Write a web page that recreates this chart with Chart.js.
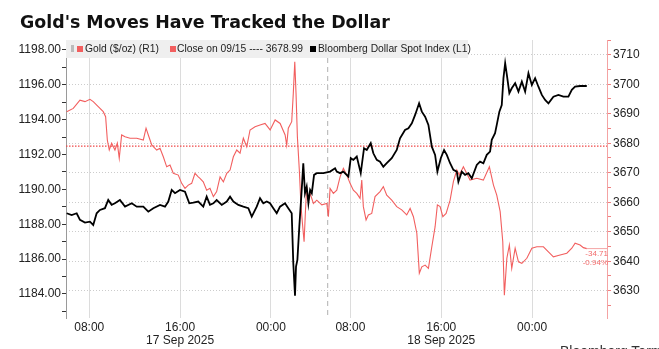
<!DOCTYPE html>
<html>
<head>
<meta charset="utf-8">
<script src="https://cdn.jsdelivr.net/npm/chart.js@4"></script>
<style>
  html, body { margin: 0; padding: 0; background: #fff; overflow: hidden; }
  #wrap { position: relative; width: 659px; height: 349px; overflow: hidden; }
  #title { position: absolute; left: 20px; top: 12px; font: bold 17.4px "DejaVu Sans", Verdana, sans-serif; color: #111; white-space: nowrap; }
  #legend { position: absolute; left: 66px; top: 40px; width: 402px; height: 18px; background: #efefef; font: 10.3px "Liberation Sans", Arial, sans-serif; color: #222; }
  #legend span { position: absolute; white-space: nowrap; }
  #legend .sq { width: 6px; height: 6px; top: 6px; }
  #legend .txt { top: 3px; }
  #source { position: absolute; left: 560px; top: 343px; font: 14px "Liberation Sans", Arial, sans-serif; color: #333; white-space: nowrap; }
</style>
</head>
<body>
<div id="wrap">
  <canvas id="goldChart" width="659" height="349"></canvas>
  <div id="title">Gold's Moves Have Tracked the Dollar</div>
  <div id="legend">
    <span style="left:5px;top:5px;width:3px;height:7px;background:#bbb;"></span>
    <span class="sq" style="left:11px;background:#f25f5f;"></span>
    <span class="txt" style="left:19px;">Gold ($/oz) (R1)</span>
    <span class="sq" style="left:104px;background:#f25f5f;"></span>
    <span class="txt" style="left:111px;">Close on 09/15 ---- 3678.99</span>
    <span class="sq" style="left:244px;background:#000;"></span>
    <span class="txt" style="left:252px;">Bloomberg Dollar Spot Index (L1)</span>
  </div>
  <div id="source">Bloomberg Terminal</div>
</div>
<script>
// x in chart hours (17 Sep 00:00 = 0, daily break removed)
const xTickValues = [8, 16, 24, 31, 39, 47];
const xTickLabels = ['08:00', ['16:00', '17 Sep 2025'], '00:00', '08:00', ['16:00', '18 Sep 2025'], '00:00'];
const leftTickValues = [1184, 1186, 1188, 1190, 1192, 1194, 1196, 1198];
const rightTickValues = [3630, 3640, 3650, 3660, 3670, 3680, 3690, 3700, 3710];
const sessionStart = 29;
const closeValue = 3678.99;

// Gold ($/oz), right axis
const goldHours = [6.01,6.59,7.18,7.62,8.06,8.35,8.79,9.23,9.44,9.59,
  9.76,9.97,10.26,10.47,10.64,10.85,11.15,11.59,12.18,12.76,
  13.0,13.2,13.5,13.94,14.23,14.52,14.82,15.11,15.4,15.84,
  16.14,16.43,16.72,17.02,17.31,17.6,17.75,18.04,18.34,18.63,
  18.93,19.22,19.52,19.81,20.11,20.4,20.69,20.99,21.28,21.57,
  21.87,22.16,22.6,23.04,23.48,23.93,24.37,24.81,25.25,25.39,
  25.53,25.83,25.97,26.1,26.21,26.33,26.5,26.65,26.8,26.92,
  27.03,27.15,27.3,27.45,27.74,28.04,28.48,28.92,29.06,29.21,
  29.5,29.8,30.09,30.38,30.68,30.97,31.26,31.56,31.85,32.0,
  32.14,32.38,32.58,32.88,33.17,33.61,33.9,34.2,34.64,35.08,
  35.52,35.96,36.26,36.55,36.85,37.07,37.29,37.58,37.87,38.17,
  38.46,38.66,38.9,39.14,39.43,39.78,40.07,40.37,40.6,40.95,
  41.54,42.13,42.71,43.24,43.6,43.89,44.19,44.42,44.56,44.78,
  45.0,45.21,45.51,45.8,46.1,46.54,46.98,47.42,48.0,48.44,
  48.88,49.47,50.06,50.5,50.79,51.23,51.52,51.82];
const goldPrices = [3690.7,3691.8,3694.6,3694.1,3694.9,3694.1,3692.4,3690.7,3689.0,3681.1,
  3677.7,3680.0,3677.7,3680.0,3674.9,3682.8,3682.2,3681.7,3681.7,3681.1,
  3685.1,3682.8,3679.4,3677.7,3678.3,3675.4,3672.0,3672.6,3669.8,3669.2,
  3666.4,3664.7,3665.8,3666.4,3669.8,3668.6,3668.1,3666.9,3664.1,3664.7,
  3661.9,3663.6,3668.6,3666.9,3669.8,3670.9,3675.4,3677.7,3676.6,3681.7,
  3678.8,3684.5,3685.6,3686.2,3686.7,3684.5,3687.9,3686.7,3682.8,3679.4,
  3685.1,3687.3,3696.9,3707.6,3696.9,3682.2,3670.9,3658.5,3651.7,3646.6,
  3656.2,3665.3,3660.7,3663.0,3659.6,3660.7,3659.1,3659.6,3655.1,3664.7,
  3663.0,3664.1,3668.6,3671.5,3669.2,3666.4,3664.1,3663.0,3661.3,3667.5,
  3658.5,3654.0,3655.7,3656.2,3661.9,3663.6,3665.3,3662.4,3660.7,3658.5,
  3657.4,3655.7,3657.9,3655.1,3649.5,3635.9,3638.1,3638.7,3637.6,3644.9,
  3651.7,3659.1,3658.5,3655.1,3656.2,3660.7,3667.0,3670.9,3669.2,3672.0,
  3667.5,3668.1,3667.5,3672.0,3665.8,3662.4,3656.8,3646.6,3628.5,3641.0,
  3645.5,3637.6,3644.4,3639.8,3639.3,3641.0,3644.4,3644.9,3644.9,3643.2,
  3641.5,3642.1,3642.7,3644.4,3646.1,3645.5,3644.6,3644.28];

// Bloomberg Dollar Spot Index, left axis
const dollarHours = [6.01,6.45,6.89,7.18,7.62,8.06,8.35,8.65,8.94,9.38,
  9.67,9.97,10.26,10.7,11.15,11.74,12.18,12.76,13.2,13.64,
  14.23,14.67,14.96,15.26,15.55,15.99,16.43,16.81,17.16,17.6,
  18.04,18.34,18.63,18.93,19.22,19.67,20.11,20.4,20.69,21.13,
  21.57,22.01,22.31,22.75,23.04,23.33,23.63,23.92,24.21,24.51,
  24.8,25.24,25.53,25.83,25.97,26.12,26.21,26.33,26.5,26.71,
  26.85,27.0,27.15,27.3,27.45,27.6,27.8,28.04,28.62,29.21,
  29.65,29.8,30.09,30.38,30.82,31.03,31.26,31.56,31.91,32.2,
  32.44,32.79,33.02,33.32,33.61,33.9,34.2,34.64,35.08,35.37,
  35.81,36.11,36.41,36.7,37.05,37.29,37.58,37.87,38.17,38.46,
  38.66,38.96,39.25,39.49,39.78,40.07,40.37,40.51,40.81,41.1,
  41.39,41.69,42.13,42.42,42.71,43.01,43.3,43.45,43.74,43.89,
  44.12,44.33,44.48,44.63,44.78,45.0,45.21,45.51,45.8,46.1,
  46.39,46.68,46.98,47.27,47.56,47.86,48.15,48.44,48.88,49.32,
  49.76,50.2,50.5,50.79,51.23,51.82];
const dollarValues = [1188.63,1188.53,1188.63,1188.25,1188.09,1188.15,1187.96,1188.63,1188.82,1188.92,
  1189.39,1189.11,1189.2,1189.39,1189.01,1189.2,1189.01,1189.01,1188.72,1188.92,
  1189.11,1189.01,1189.3,1189.97,1189.78,1189.97,1189.87,1189.2,1189.24,1189.3,
  1189.01,1189.58,1189.11,1189.2,1189.39,1189.11,1189.3,1189.58,1189.3,1189.11,
  1189.01,1188.92,1188.44,1189.01,1189.49,1189.2,1189.3,1189.2,1188.92,1188.63,
  1189.01,1189.2,1188.92,1188.63,1185.76,1183.9,1185.57,1185.95,1187.86,1189.97,
  1191.5,1189.78,1190.16,1189.2,1189.97,1189.78,1190.83,1190.93,1190.93,1191.02,
  1191.21,1191.02,1190.93,1191.02,1190.73,1191.79,1191.69,1191.88,1190.93,1192.36,
  1192.26,1192.65,1192.07,1191.69,1191.59,1191.3,1191.5,1191.79,1192.26,1192.93,
  1193.41,1193.51,1193.79,1194.27,1194.94,1194.46,1194.17,1193.7,1192.45,1191.98,
  1191.02,1191.79,1192.26,1191.98,1191.5,1191.12,1191.02,1190.44,1191.02,1190.83,
  1190.93,1190.64,1191.4,1191.59,1191.5,1191.98,1192.17,1192.84,1193.22,1193.7,
  1194.46,1194.84,1196.38,1197.24,1196.57,1195.52,1195.8,1196.09,1195.61,1196.18,
  1195.61,1196.66,1195.99,1196.38,1195.89,1195.42,1195.13,1194.94,1195.32,1195.42,
  1195.32,1195.32,1195.71,1195.89,1195.93,1195.93];

const xMin = 5.95, xMax = 53.6;
const goldPoints = goldHours.map((h, i) => ({ x: h, y: goldPrices[i] }));
const dollarPoints = dollarHours.map((h, i) => ({ x: h, y: dollarValues[i] }));

// 보조 눈금 (minor ticks) between labelled ones
const leftTicks = [];
leftTickValues.forEach(v => leftTicks.push(v - 1, v));
const rightTicks = [];
rightTickValues.forEach(v => rightTicks.push(v - 5, v));
rightTicks.push(3715);

const overlay = {
  id: 'overlay',
  beforeDatasetsDraw(chart) {
    const { ctx, chartArea } = chart;
    const x = chart.scales.x.getPixelForValue(sessionStart);
    ctx.save();
    ctx.strokeStyle = '#b0b0b0';
    ctx.setLineDash([5, 4]);
    ctx.lineWidth = 1;
    ctx.beginPath();
    ctx.moveTo(x, chartArea.top);
    ctx.lineTo(x, chartArea.bottom);
    ctx.stroke();
    ctx.restore();
  },
  afterDatasetsDraw(chart) {
    const { ctx, chartArea } = chart;
    const last = goldPrices[goldPrices.length - 1];
    const change = last - closeValue;
    const pct = change / closeValue * 100;
    const x0 = chart.scales.x.getPixelForValue(goldHours[goldHours.length - 1]);
    const y = chart.scales.yR.getPixelForValue(last);
    ctx.save();
    ctx.strokeStyle = '#f4a5a5';
    ctx.lineWidth = 1;
    ctx.beginPath();
    ctx.moveTo(x0, y);
    ctx.lineTo(chartArea.right, y);
    ctx.stroke();
    ctx.fillStyle = '#f26b6b';
    ctx.font = '8px "Liberation Sans", Arial, sans-serif';
    ctx.textAlign = 'right';
    ctx.textBaseline = 'middle';
    ctx.fillText(change.toFixed(2), chartArea.right + 1, y + 5);
    ctx.fillText(pct.toFixed(2) + '%', chartArea.right + 1, y + 14);
    ctx.restore();
  }
};

const tickFont = { family: '"Liberation Sans", Arial, sans-serif', size: 12 };

new Chart(document.getElementById('goldChart'), {
  type: 'line',
  data: {
    datasets: [
      {
        label: 'Bloomberg Dollar Spot Index (L1)',
        data: dollarPoints,
        yAxisID: 'yL',
        borderColor: '#000',
        borderWidth: 1.8,
        pointRadius: 0,
        tension: 0
      },
      {
        label: 'Gold ($/oz) (R1)',
        data: goldPoints,
        yAxisID: 'yR',
        borderColor: '#f25f5f',
        borderWidth: 1.1,
        pointRadius: 0,
        tension: 0
      },
      {
        label: 'Close on 09/15',
        data: [{ x: xMin, y: closeValue }, { x: xMax, y: closeValue }],
        yAxisID: 'yR',
        borderColor: '#f04848',
        borderWidth: 1.3,
        borderDash: [1.5, 1.5],
        pointRadius: 0
      }
    ]
  },
  options: {
    responsive: false,
    animation: false,
    devicePixelRatio: 1,
    layout: { padding: { top: 40, left: 0, right: 0, bottom: 0 } },
    plugins: { legend: { display: false }, tooltip: { enabled: false } },
    scales: {
      x: {
        type: 'linear',
        min: xMin,
        max: xMax,
        afterBuildTicks: s => { s.ticks = xTickValues.map(v => ({ value: v })); },
        afterFit: s => { s.height = 31; },
        grid: { color: '#dcdcdc', drawTicks: false },
        border: { display: false },
        ticks: {
          autoSkip: false,
          maxRotation: 0,
          padding: 3,
          color: '#222',
          font: { ...tickFont, lineHeight: 1.1 },
          callback: (v, i) => xTickLabels[i]
        }
      },
      yL: {
        position: 'left',
        min: 1182.62,
        max: 1198.57,
        afterBuildTicks: s => { s.ticks = leftTicks.map(v => ({ value: v })); },
        afterFit: s => { s.width = 66; },
        grid: { drawOnChartArea: false, tickLength: 4, tickColor: '#333' },
        border: { color: '#9a9a9a' },
        ticks: {
          autoSkip: false,
          padding: 1,
          color: '#222',
          font: tickFont,
          callback: v => leftTickValues.includes(v) ? v.toFixed(2) : ''
        }
      },
      yR: {
        position: 'right',
        min: 3620.75,
        max: 3715,
        afterBuildTicks: s => { s.ticks = rightTicks.map(v => ({ value: v })); },
        afterFit: s => { s.width = 52; },
        grid: {
          color: c => rightTickValues.includes(c.tick.value) ? '#cccccc' : 'rgba(0,0,0,0)',
          tickColor: '#f08080',
          tickLength: 4
        },
        border: { color: '#f4a3a3', dash: [1, 2] },
        ticks: {
          autoSkip: false,
          padding: 2,
          color: '#222',
          font: tickFont,
          callback: v => rightTickValues.includes(v) ? String(v) : ''
        }
      }
    }
  },
  plugins: [overlay]
});
</script>
</body>
</html>
